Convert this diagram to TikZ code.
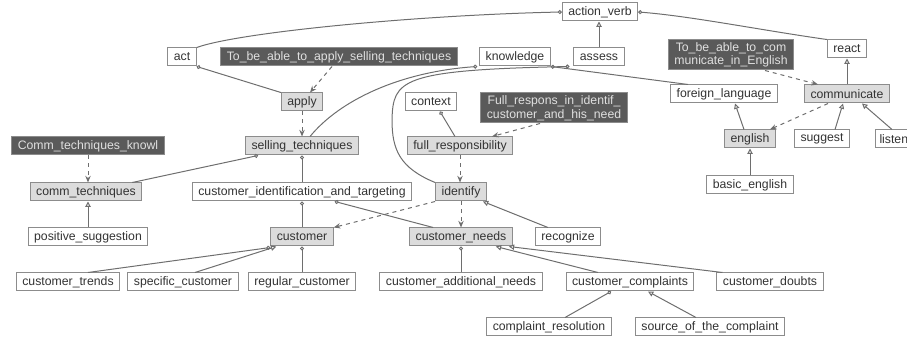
\documentclass[tikz,border=0pt]{standalone}
\usepackage{fontspec}
\setmainfont{Liberation Sans}
\usetikzlibrary{arrows.meta}

\definecolor{boxgray}{HTML}{8C8C8C}
\definecolor{defgray}{HTML}{DCDCDC}
\definecolor{notegray}{HTML}{5A5A5A}
\definecolor{linegray}{HTML}{6E6E6E}
\definecolor{txtgray}{HTML}{333333}

\tikzset{every picture/.style={line width=0.75pt},
  cls/.style={draw=boxgray, fill=white, text=txtgray, font=\fontsize{9.2}{10.2}\selectfont,
    inner xsep=4.5pt, inner ysep=0pt, minimum height=13.5pt},
  defcls/.style={cls, fill=defgray},
  note/.style={cls, fill=notegray, draw=boxgray, text=white!88!black, align=center},
  isa/.style={draw=linegray, -{Triangle[open,length=4pt,width=4pt]}},
  part/.style={draw=linegray, -{Circle[open,length=3pt]}},
  dep/.style={draw=linegray, dashed, -{Stealth[length=5pt,width=4pt]}, color=linegray}
}

\begin{document}
\begin{tikzpicture}[x=0.75pt,y=0.75pt,yscale=-1,xscale=1]
\useasboundingbox (0,0) rectangle (907,341);

% Classes, top rows
\node [cls] (action) at (600,12) {action\_verb};
\node [cls] (act) at (182,57) {act};
\node [note] (apnote) at (339,57) {To\_be\_able\_to\_apply\_selling\_techniques};
\node [cls] (knowledge) at (515,57) {knowledge};
\node [cls] (assess) at (599,57) {assess};
\node [note, minimum height=22.5pt] (cmnote) at (731,55) {To\_be\_able\_to\_com\\municate\_in\_English};
\node [cls] (react) at (847,49) {react};
\node [defcls] (apply) at (302,102) {apply};
\node [cls] (context) at (431,102) {context};
\node [note, minimum height=22.5pt] (frnote) at (554,108) {Full\_respons\_in\_identif\_\\customer\_and\_his\_need};
\node [cls] (foreign) at (724,94) {foreign\_language};
\node [defcls] (communicate) at (847,94) {communicate};

% Classes, middle rows
\node [note] (cknote) at (88,146) {Comm\_techniques\_knowl};
\node [defcls] (selling) at (302,146) {selling\_techniques};
\node [defcls] (fullresp) at (460,146) {full\_responsibility};
\node [defcls] (english) at (750,139) {english};
\node [cls] (suggest) at (822,139) {suggest};
\node [cls, anchor=west, inner xsep=3pt] (listen) at (875,139) {listen};
\node [cls] (basic) at (750,185) {basic\_english};
\node [defcls] (commtech) at (86,192) {comm\_techniques};
\node [cls] (cit) at (302,192) {customer\_identification\_and\_targeting};
\node [defcls] (identify) at (461,192) {identify};

% Classes, bottom rows
\node [cls] (possug) at (88,237) {positive\_suggestion};
\node [defcls] (customer) at (302,237) {customer};
\node [defcls] (cneeds) at (461,237) {customer\_needs};
\node [cls] (recognize) at (568,237) {recognize};
\node [cls] (trends) at (68,282) {customer\_trends};
\node [cls] (specific) at (183,282) {specific\_customer};
\node [cls] (regular) at (302,282) {regular\_customer};
\node [cls] (addneeds) at (461,282) {customer\_additional\_needs};
\node [cls] (complaints) at (630,282) {customer\_complaints};
\node [cls] (doubts) at (770,282) {customer\_doubts};
\node [cls] (resolution) at (549,327) {complaint\_resolution};
\node [cls] (source) at (710,327) {source\_of\_the\_complaint};

% Links
\draw [part] (act.north east) .. controls (240,32) and (420,15) .. (action.west);
\draw [part] (react.north west) .. controls (760,30) and (690,16) .. (action.east);
\draw [isa] (assess.north) -- (assess.north |- action.south);
\draw [part] (apply.north west) -- (act.south east);
\draw [part] ([xshift=6pt]selling.north) .. controls (340,100) and (400,72) .. ([xshift=-1.5pt]knowledge.south west);
\draw [part] (identify.north west) .. controls (400,168) and (392,150) .. (392,120) .. controls (393,80) and (400,70) .. ([xshift=-3pt]assess.south west);
\draw [part] ([xshift=13.5pt]foreign.north west) -- (knowledge.south east);
\draw [part] ([xshift=-3.75pt]fullresp.north) -- ([xshift=6.75pt]context.south);
\draw [isa] (communicate.north) -- (react.south);
\draw [isa] ([xshift=-4.5pt]english.north) -- ([xshift=8.25pt]foreign.south);
\draw [isa] ([xshift=9.75pt]suggest.north) -- ([xshift=-3pt]communicate.south);
\draw [isa] ([xshift=12.75pt]listen.north west) -- ([xshift=11.25pt]communicate.south);
\draw [isa] (basic.north) -- (english.south);
\draw [part] ([xshift=-7.5pt]commtech.north east) -- ([xshift=9.75pt]selling.south west);
\draw [part] (cit.north) -- (selling.south);
\draw [part] (customer.north) -- (cit.south);
\draw [part] ([xshift=18pt]cneeds.north west) -- ([xshift=-58pt]cit.south east);
\draw [isa] ([xshift=9.75pt]recognize.north west) -- ([xshift=-3pt]identify.south east);
\draw [isa] (possug.north) -- (possug.north |- commtech.south);
\draw [part] ([xshift=15pt]trends.north) -- ([yshift=0.75pt]customer.south west);
\draw [isa] ([xshift=9pt]specific.north) -- ([xshift=4.5pt]customer.south west);
\draw [part] (regular.north) -- (customer.south);
\draw [part] (addneeds.north) -- (cneeds.south);
\draw [isa] ([xshift=-24pt]complaints.north) -- ([xshift=-12.75pt]cneeds.south east);
\draw [isa] ([xshift=4.5pt]doubts.north west) -- ([xshift=-3pt]cneeds.south east);
\draw [part] ([xshift=12pt]resolution.north) -- ([xshift=-14.25pt]complaints.south);
\draw [isa] ([xshift=-10.5pt]source.north) -- ([xshift=13.5pt]complaints.south);

% Dependencies
\draw [dep] ([xshift=-5.25pt]apnote.south) -- ([xshift=6pt]apply.north);
\draw [dep] (apply.south) -- (selling.north);
\draw [dep] (cknote.south) -- (cknote.south |- commtech.north);
\draw [dep] ([xshift=-10.5pt]frnote.south) -- ([xshift=24pt]fullresp.north);
\draw [dep] (fullresp.south) -- (fullresp.south |- identify.north);
\draw [dep] (identify.south west) -- (customer.north east);
\draw [dep] (identify.south) -- (cneeds.north);
\draw [dep] ([xshift=25.5pt]cmnote.south) -- ([xshift=10.5pt]communicate.north west);
\draw [dep] ([xshift=18pt]communicate.south west) -- ([xshift=-4.5pt]english.north east);

\end{tikzpicture}
\end{document}
